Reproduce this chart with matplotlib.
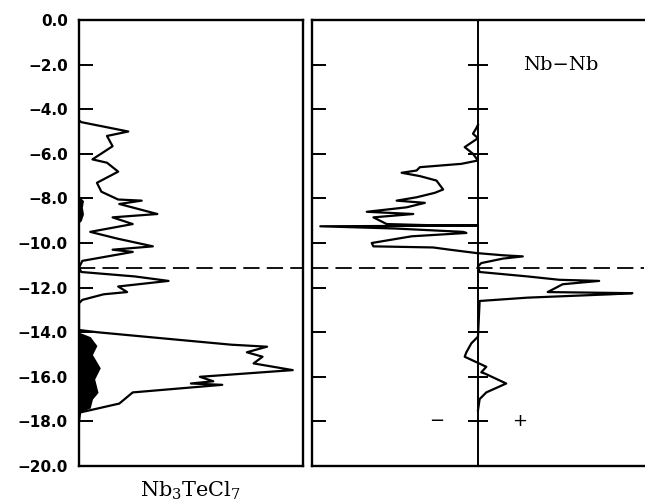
import numpy as np
import matplotlib
matplotlib.use("Agg")
import matplotlib.pyplot as plt

plt.rcParams['mathtext.fontset'] = 'dejavuserif'

# total DOS, Nb3TeCl7 (energy in eV, DOS in arbitrary units)
dos_e = [-4.5, -4.58, -4.8, -5.0, -5.2, -5.66, -6.25, -6.4, -6.8, -7.3, -7.7,
         -8.05, -8.1, -8.25, -8.7, -8.85, -9.15, -9.5, -9.8, -10.15, -10.3,
         -10.4, -10.8, -11.1, -11.3, -11.5, -11.7, -11.95, -12.2, -12.3,
         -12.55, -12.7, -13.9, -14.0, -14.3, -14.56, -14.65, -14.9, -15.1,
         -15.4, -15.7, -16.0, -16.2, -16.3, -16.36, -16.7, -17.2, -17.6, -18.0]
dos_v = [0.0, 0.1, 1.2, 2.2, 1.25, 1.5, 0.6, 1.25, 1.75, 0.8, 1.0,
         1.75, 2.8, 1.8, 3.5, 1.5, 2.4, 0.5, 1.7, 3.3, 1.5,
         2.4, 0.15, 0.0, 0.1, 2.5, 4.0, 1.75, 2.15, 1.1,
         0.15, 0.0, 0.0, 0.8, 4.0, 6.8, 8.4, 7.5, 8.2,
         7.8, 9.55, 5.4, 6.0, 5.0, 6.4, 2.4, 1.8, 0.05, 0.0]

# shaded projection
proj_e = [-7.9, -8.1, -8.4, -8.7, -9.0, -9.1,
          -14.0, -14.2, -14.6, -15.0, -15.6, -16.1, -16.7, -17.0, -17.4, -17.6]
proj_v = [0.0, 0.2, 0.15, 0.2, 0.1, 0.0,
          0.0, 0.5, 0.8, 0.6, 0.95, 0.7, 0.85, 0.6, 0.5, 0.0]

# Nb-Nb COOP
coop_e = [-4.7, -4.85, -5.1, -5.3, -5.7, -6.0, -6.3, -6.45, -6.6, -6.75,
          -6.85, -7.0, -7.2, -7.6, -7.75, -7.95, -8.1, -8.2, -8.4, -8.6,
          -8.7, -8.85, -9.15, -9.2, -9.22, -9.25, -9.35, -9.5, -9.55, -9.7,
          -10.0, -10.15, -10.2, -10.3, -10.45, -10.55, -10.6, -10.7, -10.9,
          -11.05, -11.3, -11.5, -11.65, -11.7, -11.85, -12.2, -12.25, -12.3,
          -12.45, -12.6, -14.2, -14.5, -14.9, -15.1, -15.55, -15.8, -15.85,
          -16.3, -16.7, -17.0, -17.5]
coop_v = [0.0, -0.01, -0.03, 0.0, -0.08, -0.03, 0.0, -0.1, -0.35, -0.37,
          -0.46, -0.35, -0.25, -0.21, -0.26, -0.37, -0.49, -0.32, -0.43, -0.67,
          -0.39, -0.63, -0.55, -0.3, 0.0, -0.95, -0.5, -0.09, -0.07, -0.4,
          -0.64, -0.63, -0.27, -0.17, -0.01, 0.15, 0.27, 0.15, 0.02,
          0.0, 0.01, 0.3, 0.49, 0.73, 0.51, 0.42, 0.93, 0.8,
          0.3, 0.01, 0.0, -0.04, -0.07, -0.08, 0.05, 0.02, 0.04,
          0.17, 0.05, 0.01, 0.0]

e_fermi = -11.1
yticks = np.arange(0, -20.1, -2.0)

fig = plt.figure(figsize=(6.45, 5.04), dpi=100)
ax1 = fig.add_axes([0.1225, 0.0754, 0.347, 0.8849])
ax2 = fig.add_axes([0.4837, 0.0754, 0.5147, 0.8849])

for ax in (ax1, ax2):
    ax.set_ylim(-20, 0)
    ax.set_xticks([])
    ax.set_yticks(yticks)
    for s in ax.spines.values():
        s.set_linewidth(1.7)
    ax.tick_params(axis='y', direction='in', length=10, width=1.4, pad=8,
                   labelsize=11)

# left panel: DOS
ax1.set_xlim(0, 10)
ax1.fill_betweenx(proj_e, 0, proj_v, color='black', lw=0)
ax1.plot(dos_v, dos_e, color='black', lw=1.6)
ax1.axhline(e_fermi, color='black', lw=1.3, ls=(0, (9, 4)))
ax1.yaxis.set_major_formatter(
    matplotlib.ticker.FuncFormatter(lambda v, p: f'{v:.1f}'.replace('-', '\u2212')))
for lab in ax1.get_yticklabels():
    lab.set_fontfamily('DejaVu Sans')
    lab.set_fontweight('bold')
ax1.text(0.5, -0.03, r'$\mathrm{Nb_3TeCl_7}$', transform=ax1.transAxes,
         ha='center', va='top', fontsize=15)

# right panel: COOP
ax2.set_xlim(-1, 1)
ax2.spines['right'].set_visible(False)
ax2.set_yticklabels([])
ax2.axvline(0, color='black', lw=1.4)
ax2.hlines(yticks[1:-1], -0.06, 0.06, color='black', lw=1.4)
ax2.plot(coop_v, coop_e, color='black', lw=1.6)
ax2.axhline(e_fermi, color='black', lw=1.3, ls=(0, (9, 4)))
ax2.text(0.27, -2.0, 'Nb\u2212Nb', family='DejaVu Serif', fontsize=14,
         ha='left', va='center')
ax2.text(-0.25, -18.0, '\u2212', fontsize=13, ha='center', va='center')
ax2.text(0.25, -18.0, '+', fontsize=13, ha='center', va='center')

fig.savefig('out.png', dpi=100)
